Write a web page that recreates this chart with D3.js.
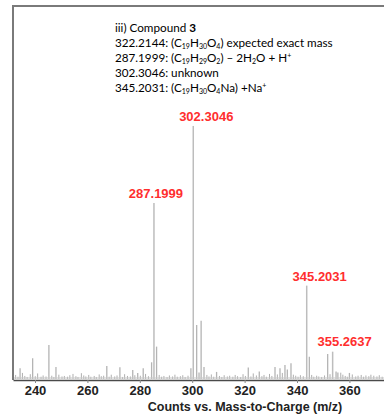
<!DOCTYPE html>
<html>
<head>
<meta charset="utf-8">
<script src="https://cdn.jsdelivr.net/npm/d3@7"></script>
<style>
  body { margin: 0; background: #fff; }
  svg { display: block; }
</style>
</head>
<body>
<script>
(function() {

	// labelled peaks (m/z as drawn, relative intensity %)
	var peakMz = [285.4, 300.4, 343.7, 353.6];
	var peakInt = [69.6, 100, 36.9, 10.8];
	var peakLabels = ["287.1999", "302.3046", "345.2031", "355.2637"];

	// other visible peaks
	var minorMz = [234.3, 239.1, 245.3, 248.0, 267.4, 272.4, 277.3, 279.2, 281.3, 284.5, 286.4,
		299.5, 301.7, 302.6, 303.4, 304.5, 309.3, 321.4, 325.6, 331.6, 333.5, 335.4, 336.3,
		337.7, 344.7, 351.7, 354.9, 355.6, 360.0];
	var minorInt = [4.2, 8.2, 13.4, 4.7, 5.1, 4.6, 3.6, 2.4, 4.2, 6.6, 12.8,
		4.2, 21.3, 2.6, 23.0, 4.7, 2.8, 4.5, 3.0, 4.7, 4.2, 5.5, 3.8,
		6.2, 8.8, 9.9, 3.0, 2.6, 2.4];

	// baseline noise
	var noiseMz = [232.6, 233.5, 235.2, 236.1, 237.0, 238.2, 240.1, 241.0, 242.3, 243.1, 244.2,
		246.4, 247.2, 249.1, 250.3, 251.2, 252.4, 253.3, 254.5, 255.6, 256.4, 257.7, 258.6,
		259.4, 260.5, 261.3, 262.6, 263.4, 264.5, 265.3, 266.2, 268.3, 269.1, 270.4, 271.3,
		273.4, 274.2, 275.3, 276.4, 278.1, 280.2, 282.2, 283.3, 287.4, 288.3, 289.2, 290.4,
		291.3, 292.5, 293.4, 294.3, 295.5, 296.4, 297.3, 298.4, 305.6, 306.4, 307.3, 308.2,
		310.4, 311.3, 312.2, 313.4, 314.3, 315.5, 316.4, 317.3, 318.5, 319.4, 320.3, 322.4,
		323.3, 324.5, 326.6, 327.4, 328.3, 329.5, 330.4, 332.5, 334.4, 338.6, 339.5, 340.4,
		341.3, 342.4, 345.6, 346.4, 347.5, 348.3, 349.4, 350.5, 352.6, 356.7, 357.5, 358.4,
		359.2, 361.1, 362.4, 363.3, 364.5, 365.4, 366.3, 367.4, 368.2, 369.3, 370.5, 371.4, 372.5];
	var noiseInt = [1.6, 0.9, 2.4, 1.2, 0.8, 1.9, 1.1, 2.2, 0.9, 1.4, 1.0,
		1.3, 0.8, 1.7, 1.0, 1.2, 0.9, 1.5, 2.0, 1.1, 0.8, 2.3, 1.4,
		1.0, 1.6, 0.9, 1.2, 0.8, 1.8, 1.1, 1.3, 0.9, 1.7, 1.0, 1.4,
		0.8, 1.9, 1.2, 1.0, 1.5, 1.3, 2.0, 1.1, 1.6, 0.9, 1.2, 0.8,
		1.4, 1.0, 1.7, 0.9, 1.1, 1.5, 0.8, 1.3, 1.6, 1.0, 1.8, 0.9,
		1.2, 0.8, 1.5, 1.0, 1.3, 0.9, 1.6, 1.1, 0.8, 1.9, 1.2, 1.0,
		2.2, 1.4, 1.1, 1.6, 0.9, 2.0, 1.2, 1.8, 2.4, 1.7, 1.3, 0.9,
		1.5, 1.1, 1.6, 0.9, 1.3, 1.0, 0.8, 1.4, 1.9, 2.5, 1.7, 1.2,
		0.9, 1.8, 1.0, 1.3, 1.6, 0.9, 1.4, 1.1, 1.7, 1.3, 1.0, 1.5, 0.9];

	var tickValues = [240, 260, 280, 300, 320, 340, 360];
	var xTitle = "Counts vs. Mass-to-Charge (m/z)";

	// annotation lines: [text, kind] where kind is null, "sub", "sup" or "b"
	var noteLines = [
		[["iii) Compound ", null], ["3", "b"]],
		[["322.2144: (C", null], ["19", "sub"], ["H", null], ["30", "sub"], ["O", null], ["4", "sub"], [") expected exact mass", null]],
		[["287.1999: (C", null], ["19", "sub"], ["H", null], ["29", "sub"], ["O", null], ["2", "sub"], [") \u2013 2H", null], ["2", "sub"], ["O + H", null], ["+", "sup"]],
		[["302.3046: unknown", null]],
		[["345.2031: (C", null], ["19", "sub"], ["H", null], ["30", "sub"], ["O", null], ["4", "sub"], ["Na) +Na", null], ["+", "sup"]]
	];


	var width = 384;
	var height = 417;

	var svg = d3.select("body")
		.append("svg")
		.attr("width", width)
		.attr("height", height);

	var x = d3.scaleLinear()
		.domain([231.6, 373.2])
		.range([13, 384]);

	var y = d3.scaleLinear()
		.domain([0, 147.4])
		.range([379, 6]);

	// frame (top and left edges)
	svg.append("path")
		.attr("d", "M13,380V6H384")
		.attr("fill", "none")
		.attr("stroke", "#7a7a7a")
		.attr("stroke-width", 2);

	function sticks(mz, inten, color, w) {
		svg.append("g")
			.selectAll("line")
			.data(mz)
			.enter()
			.append("line")
			.attr("x1", function(d) { return x(d); })
			.attr("x2", function(d) { return x(d); })
			.attr("y1", y(0))
			.attr("y2", function(d, i) { return y(inten[i]); })
			.attr("stroke", color)
			.attr("stroke-width", w);
	}

	sticks(noiseMz, noiseInt, "#9a9a9a", 0.8);
	sticks(minorMz, minorInt, "#b4b4b4", 1.3);
	sticks(peakMz, peakInt, "#bdbdbd", 1.5);

	// baseline of spectrum
	svg.append("line")
		.attr("x1", 14).attr("x2", 384)
		.attr("y1", y(0.4)).attr("y2", y(0.4))
		.attr("stroke", "#c8c8c8")
		.attr("stroke-width", 1);

	// peak labels
	svg.append("g")
		.selectAll("text")
		.data(peakLabels)
		.enter()
		.append("text")
		.attr("x", function(d, i) { return i == 3 ? x(peakMz[i]) + 12 : x(peakMz[i]) + (i == 0 ? 2 : 13); })
		.attr("y", function(d, i) { return i == 3 ? 346 : y(peakInt[i]) - 5; })
		.attr("text-anchor", "middle")
		.style("font-family", "'Liberation Sans', Arial, sans-serif")
		.style("font-weight", "bold")
		.style("font-size", "13px")
		.style("fill", "#ff2e2e")
		.text(function(d) { return d; });

	// x axis
	var xAxis = d3.axisBottom(x)
		.tickValues(tickValues)
		.tickSize(3)
		.tickSizeOuter(0);

	var gx = svg.append("g")
		.attr("transform", "translate(0,380)")
		.call(xAxis);

	gx.select(".domain")
		.attr("stroke", "#4a4a4a")
		.attr("stroke-width", 1.5);
	gx.selectAll(".tick line")
		.attr("stroke", "#888");
	gx.selectAll(".tick text")
		.attr("fill", "#222")
		.style("font-family", "'Liberation Sans', Arial, sans-serif")
		.style("font-weight", "bold")
		.style("font-size", "13px");

	svg.append("text")
		.attr("x", 245)
		.attr("y", 411)
		.attr("text-anchor", "middle")
		.style("font-family", "'Liberation Sans', Arial, sans-serif")
		.style("font-weight", "bold")
		.style("font-size", "12.5px")
		.style("fill", "#222")
		.text(xTitle);

	// annotation block
	var note = svg.append("text")
		.style("font-family", "Lato, 'Open Sans', sans-serif")
		.style("font-size", "11.7px")
		.style("fill", "#000");

	noteLines.forEach(function(line, li) {
		var shift = 0;
		line.forEach(function(seg, si) {
			var t = note.append("tspan").text(seg[0]);
			if (si == 0) {
				t.attr("x", 115).attr("y", 31.5 + li * 15);
				shift = 0;
			}
			var target = seg[1] == "sub" ? 2 : (seg[1] == "sup" ? -4 : 0);
			if (target != shift) {
				t.attr("dy", target - shift);
				shift = target;
			}
			if (seg[1] == "sub" || seg[1] == "sup") t.style("font-size", "7px");
			if (seg[1] == "b") t.style("font-weight", "bold");
		});
	});

})();
</script>
</body>
</html>
